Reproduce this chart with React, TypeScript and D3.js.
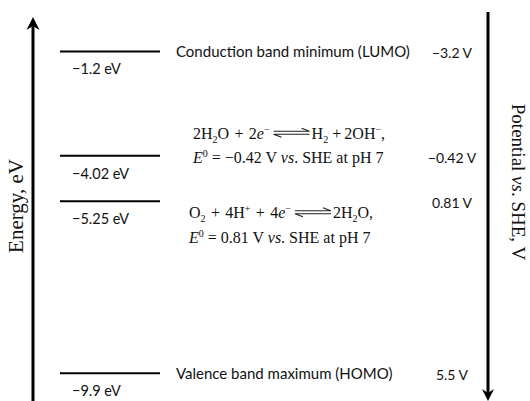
import React, { useRef, useEffect } from 'react';
import * as d3 from 'd3';

// energy levels (eV) and their labels
const levelEnergies = [-1.2, -4.02, -5.25, -9.9];
const levelLabels = ['−1.2 eV', '−4.02 eV', '−5.25 eV', '−9.9 eV'];
const potentialLabels = ['−3.2 V', '−0.42 V', '0.81 V', '5.5 V'];
const bandNames = ['Conduction band minimum (LUMO)', '', '', 'Valence band maximum (HOMO)'];

// equation pieces: [text, kind]  n = normal, i = italic, sub, sup
const eqH2Left = [['2H', 'n'], ['2', 'sub'], ['O\u2004+\u20042', 'n'], ['e', 'i'], ['−', 'sup']];
const eqH2Right = [['H', 'n'], ['2', 'sub'], [' +\u20092OH', 'n'], ['−', 'sup'], [',', 'n']];
const eqH2Pot = [['E', 'i'], ['0', 'sup'], [' = −0.42 V ', 'n'], ['vs', 'i'], ['. SHE at pH 7', 'n']];
const eqO2Left = [['O', 'n'], ['2', 'sub'], ['\u2004+\u20044H', 'n'], ['+', 'sup'], ['\u2004+\u20044', 'n'], ['e', 'i'], ['−', 'sup']];
const eqO2Right = [['2H', 'n'], ['2', 'sub'], ['O,', 'n']];
const eqO2Pot = [['E', 'i'], ['0', 'sup'], [' = 0.81 V ', 'n'], ['vs', 'i'], ['. SHE at pH 7', 'n']];

const SANS = 'Lato, "Open Sans", sans-serif';
const SERIF = '"Liberation Serif", "Times New Roman", serif';

const App = () => {
  const svgRef = useRef(null);

  useEffect(() => {
    const width = 530;
    const height = 401;
    const svg = d3.select(svgRef.current)
      .attr('width', width)
      .attr('height', height);

    svg.selectAll('*').remove(); // Clear previous content

    const y = d3.scaleLinear().domain([0, -10]).range([7, 377]);

    // rich text line built from pieces, returns its width
    const richText = (x, yy, parts) => {
      const t = svg.append('text')
        .attr('x', x)
        .attr('y', yy)
        .attr('font-family', SERIF)
        .attr('font-size', 16)
        .attr('fill', '#111')
        .style('white-space', 'pre');
      let shift = 0;
      parts.forEach(([txt, kind]) => {
        let target = 0;
        if (kind === 'sub') target = 4;
        if (kind === 'sup') target = -6;
        const ts = t.append('tspan')
          .attr('dy', target - shift)
          .text(txt);
        shift = target;
        if (kind === 'sub' || kind === 'sup') ts.attr('font-size', 10);
        if (kind === 'i') ts.attr('font-style', 'italic');
      });
      return t.node().getComputedTextLength();
    };

    // reaction with equilibrium harpoons
    const equation = (x, yy, left, right) => {
      const w = richText(x, yy, left);
      const x0 = x + w + 4;
      const x1 = x0 + 36;
      const arrow = d3.path();
      arrow.moveTo(x0, yy - 7.5); arrow.lineTo(x1, yy - 7.5); arrow.lineTo(x1 - 8, yy - 10.5);
      arrow.moveTo(x1, yy - 4.5); arrow.lineTo(x0, yy - 4.5); arrow.lineTo(x0 + 8, yy - 1.5);
      svg.append('path')
        .attr('d', arrow.toString())
        .attr('fill', 'none')
        .attr('stroke', '#222')
        .attr('stroke-width', 1.2);
      richText(x1 + 2, yy, right);
    };

    // Energy axis (up arrow, left)
    const ax = 33;
    svg.append('line')
      .attr('x1', ax).attr('x2', ax)
      .attr('y1', height).attr('y2', 24)
      .attr('stroke', 'black').attr('stroke-width', 3);
    svg.append('path')
      .attr('d', `M${ax},17 L${ax - 6.5},30 L${ax},26 L${ax + 6.5},30 Z`)
      .attr('fill', 'black');
    svg.append('text')
      .attr('transform', `translate(23, 206) rotate(-90)`)
      .attr('text-anchor', 'middle')
      .attr('font-family', SERIF)
      .attr('font-size', 21)
      .attr('fill', '#111')
      .text('Energy, eV');

    // Potential axis (down arrow, right)
    const bx = 488;
    svg.append('line')
      .attr('x1', bx).attr('x2', bx)
      .attr('y1', 12).attr('y2', 394)
      .attr('stroke', 'black').attr('stroke-width', 3);
    svg.append('path')
      .attr('d', `M${bx},401 L${bx - 6},389 L${bx},393 L${bx + 6},389 Z`)
      .attr('fill', 'black');
    const pot = svg.append('text')
      .attr('transform', `translate(512, 182) rotate(90)`)
      .attr('text-anchor', 'middle')
      .attr('font-family', SERIF)
      .attr('font-size', 19)
      .attr('fill', '#111')
      .style('white-space', 'pre');
    pot.append('tspan').text('Potential ');
    pot.append('tspan').attr('font-style', 'italic').text('vs');
    pot.append('tspan').text('. SHE, V');

    // Levels
    const g = svg.append('g');
    g.selectAll('line.level')
      .data(levelEnergies)
      .enter()
      .append('line')
      .attr('class', 'level')
      .attr('x1', 60).attr('x2', 160)
      .attr('y1', d => y(d)).attr('y2', d => y(d))
      .attr('stroke', 'black')
      .attr('stroke-width', 2);

    g.selectAll('text.lvl')
      .data(levelEnergies)
      .enter()
      .append('text')
      .attr('class', 'lvl')
      .attr('x', 72)
      .attr('y', d => y(d) + 23)
      .attr('font-family', SANS)
      .attr('font-size', 14.5)
      .attr('fill', '#111')
      .text((d, i) => levelLabels[i]);

    g.selectAll('text.band')
      .data(levelEnergies)
      .enter()
      .append('text')
      .attr('class', 'band')
      .attr('x', 176)
      .attr('y', d => y(d) + 6)
      .attr('font-family', SANS)
      .attr('font-size', 15)
      .attr('fill', '#111')
      .text((d, i) => bandNames[i]);

    g.selectAll('text.pot')
      .data(levelEnergies)
      .enter()
      .append('text')
      .attr('class', 'pot')
      .attr('x', 452)
      .attr('y', d => y(d) + 7)
      .attr('text-anchor', 'middle')
      .attr('font-family', SANS)
      .attr('font-size', 14)
      .attr('fill', '#111')
      .text((d, i) => potentialLabels[i]);

    // Water reduction / oxidation equations
    const yH2 = y(levelEnergies[1]);
    equation(193, yH2 - 17, eqH2Left, eqH2Right);
    richText(193, yH2 + 7, eqH2Pot);

    const yO2 = y(levelEnergies[2]);
    equation(189, yO2 + 17, eqO2Left, eqO2Right);
    richText(189, yO2 + 42, eqO2Pot);
  }, []);

  return (
    <svg ref={svgRef} style={{ position: 'absolute', left: 0, top: 0, background: 'white' }}></svg>
  );
};

export default App;
